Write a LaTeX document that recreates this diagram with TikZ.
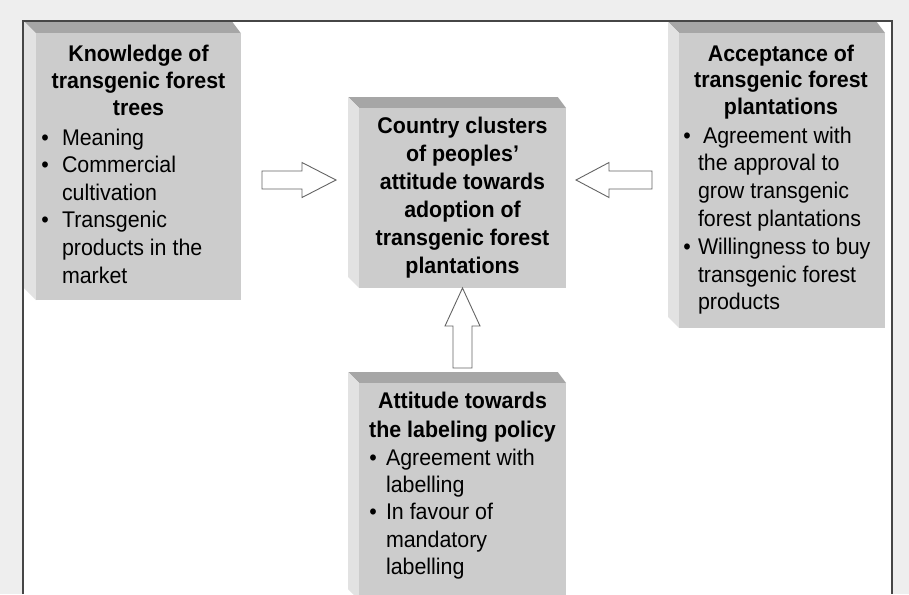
\documentclass[tikz,border=0pt]{standalone}
\usepackage{fontspec}
\usepackage{graphicx}
\setmainfont{Liberation Sans}
\usetikzlibrary{calc}
\definecolor{outbg}{RGB}{238,238,238}
\definecolor{facec}{RGB}{204,204,204}
\definecolor{topc}{RGB}{166,166,166}
\definecolor{sidec}{RGB}{226,226,226}
\definecolor{framec}{RGB}{70,70,70}
\definecolor{arrc}{RGB}{100,100,100}
\newlength\bw
\newcommand\vs[1]{\scalebox{1}[1.06]{#1}}
\newcommand\hd[1]{\hbox to\bw{\hss\vs{\bfseries#1}\hss}}
\newcommand\bi[3]{\hbox to\bw{\kern#1\makebox[0pt]{\vs{\textbullet}}\kern\dimexpr#2-#1\relax\vs{#3}\hss}}
\newcommand\co[2]{\hbox to\bw{\kern#1\vs{#2}\hss}}
\newcommand\sk[1]{\baselineskip=#1\relax}
% name, L, T, R, B, depth
\newcommand\bevelbox[6]{%
  \fill[topc] (#2-#6,#3-#6) -- (#4-0.75*#6,#3-#6) -- (#4,#3) -- (#2,#3) -- cycle;
  \fill[sidec] (#2-#6,#3-#6) -- (#2,#3) -- (#2,#5) -- (#2-#6,#5-#6) -- cycle;
  \node[facebox, anchor=north west, minimum width=#4-#2, minimum height=#5-#3] (#1) at (#2,#3) {};
}
% tail, tip, head length, shaft half width, head half width
\newcommand\blockarrow[5]{%
  \coordinate (#1-hb) at ($(#2)!#3!(#1)$);
  \draw[blockarr] ($(#1)!#4!90:(#2)$) -- ($(#1-hb)!#4!90:(#2)$) -- ($(#1-hb)!#5!90:(#2)$)
    -- (#2) -- ($(#1-hb)!#5!-90:(#2)$) -- ($(#1-hb)!#4!-90:(#2)$) -- ($(#1)!#4!-90:(#2)$) -- cycle;
}
\tikzset{
  facebox/.style={fill=facec, draw=none, inner sep=0pt, outer sep=0pt},
  boxtext/.style={anchor=base west, inner sep=0pt, outer sep=0pt, font=\fontsize{21.4pt}{26pt}\selectfont},
  blockarr/.style={draw=arrc, fill=white, line width=0.9pt, line join=miter},
}
\begin{document}
\begin{tikzpicture}[x=1pt,y=-1pt]
\useasboundingbox (0,0) rectangle (909,594);
\fill[outbg] (0,0) rectangle (909,594);
\fill[white] (23,21) rectangle (892,594);

% boxes
\bevelbox{kn}{36}{33.5}{241}{300}{12.5}
\bevelbox{cc}{359}{108}{566}{288}{11}
\bevelbox{ac}{679}{33}{885}{328}{11}
\bevelbox{lab}{359}{383}{566}{600}{11}

% texts
\node[boxtext] (kn-text) at ($(kn.north west)+(0,28.5)$) {\bw=205pt\vtop{%
  \sk{26.5pt}\hd{Knowledge of}\hd{transgenic forest}\hd{trees}%
  \sk{30pt}\bi{9pt}{26pt}{Meaning}%
  \sk{27.6pt}\bi{9pt}{26pt}{Commercial}\co{26pt}{cultivation}%
  \bi{9pt}{26pt}{Transgenic}\co{26pt}{products in the}\co{26pt}{market}}};

\node[boxtext] (cc-text) at ($(cc.north west)+(0,25)$) {\bw=207pt\vtop{%
  \sk{28pt}\hd{Country clusters}\hd{of peoples’}\hd{attitude towards}%
  \hd{adoption of}\hd{transgenic forest}\hd{plantations}}};

\node[boxtext] (ac-text) at ($(ac.north west)+(0,28)$) {\bw=204pt\vtop{%
  \sk{26.7pt}\hd{Acceptance of}\hd{transgenic forest}\hd{plantations}%
  \sk{28.6pt}\bi{8pt}{24pt}{Agreement with}%
  \sk{27.8pt}\co{19pt}{the approval to}\co{19pt}{grow transgenic}\co{19pt}{forest plantations}%
  \bi{8pt}{19pt}{Willingness to buy}\co{19pt}{transgenic forest}\co{19pt}{products}}};

\node[boxtext] (lab-text) at ($(lab.north west)+(0,25.3)$) {\bw=207pt\vtop{%
  \sk{29pt}\hd{Attitude towards}\hd{the labeling policy}%
  \sk{28.4pt}\bi{14pt}{27pt}{Agreement with}%
  \sk{27.1pt}\co{27pt}{labelling}\bi{14pt}{27pt}{In favour of}\co{27pt}{mandatory}\co{27pt}{labelling}}};

% block arrows
\coordinate (la) at (262,180);
\coordinate (la-tip) at (336,180);
\coordinate (ra) at (652,180);
\coordinate (ra-tip) at (576,180);
\coordinate (ua) at (462.5,368);
\coordinate (ua-tip) at (462.5,288);
\blockarrow{la}{la-tip}{34pt}{9pt}{17.5pt}
\blockarrow{ra}{ra-tip}{33pt}{9pt}{17.5pt}
\blockarrow{ua}{ua-tip}{38pt}{9.5pt}{17.5pt}

% frame
\draw[framec, line width=1.3pt] (23,594) -- (23,21) -- (892,21) -- (892,594);
\end{tikzpicture}
\end{document}
